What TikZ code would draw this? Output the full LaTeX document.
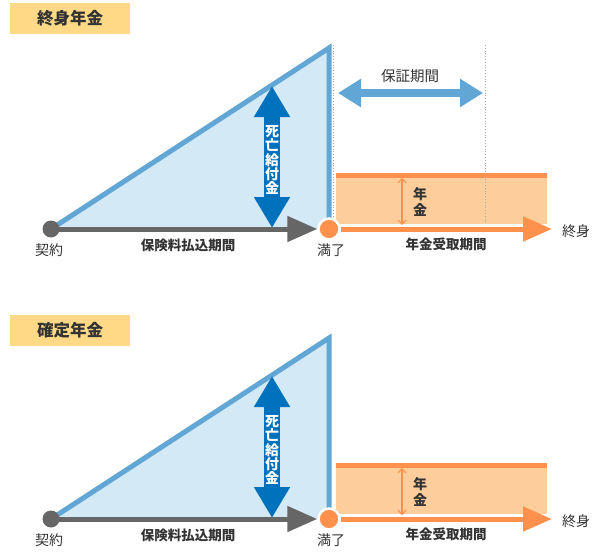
\documentclass[tikz,border=0pt]{standalone}
\usepackage{fontspec}
\setmainfont{Noto Sans CJK JP}
\usetikzlibrary{arrows.meta}
\definecolor{tbox}{HTML}{FFD985}
\definecolor{tfill}{HTML}{D3E9F6}
\definecolor{tline}{HTML}{62A6D6}
\definecolor{dblue}{HTML}{0071BC}
\definecolor{gline}{HTML}{666666}
\definecolor{orng}{HTML}{FF914D}
\definecolor{bandc}{HTML}{FDCE9B}
\definecolor{txt}{HTML}{333333}
\definecolor{guidec}{HTML}{AAAAAA}
\tikzset{
  titlebox/.style={fill=tbox, minimum width=120pt, minimum height=31pt, inner sep=0pt,
    font=\bfseries\fontsize{16.5}{17}\selectfont, text=txt},
  lbl/.style={font=\fontsize{14}{15}\selectfont, text=txt, inner sep=0pt},
  blbl/.style={font=\bfseries\fontsize{13.5}{15}\selectfont, text=txt, inner sep=0pt},
  startdot/.style={circle, fill=gline, minimum size=17pt, inner sep=0pt},
  enddot/.style={circle, fill=orng, draw=white, line width=2.5pt, minimum size=21pt, inner sep=0pt},
  tri/.style={fill=tfill, draw=tline, line width=5pt, line join=miter},
  garrow/.style={draw=gline, line width=5pt, -{Triangle[length=30pt,width=25pt]}},
  oarrow/.style={draw=orng, line width=5pt, -{Triangle[length=29pt,width=24pt]}},
  darrow/.style={draw=dblue, line width=16pt,
    {Triangle[length=31pt,width=34pt]}-{Triangle[length=31pt,width=34pt]}},
  parrow/.style={draw=tline, line width=8pt,
    {Triangle[length=23pt,width=27pt]}-{Triangle[length=23pt,width=27pt]}},
  thinarrow/.style={draw=orng, line width=1.2pt,
    {Straight Barb[length=4pt,width=8pt]}-{Straight Barb[length=4pt,width=8pt]}},
  guide/.style={draw=guidec, dotted, line width=0.8pt},
  bandtop/.style={draw=orng, line width=5pt},
  vtext/.style={font=\bfseries\fontsize{14}{14.3}\selectfont, text=white, align=center, inner sep=0pt},
  ntext/.style={font=\bfseries\fontsize{14}{16}\selectfont, text=txt, align=center, inner sep=0pt}
}
\newcommand\diagpart[2]{%
\begin{scope}[yshift=-#2pt]
  \filldraw[tri] (51,229) -- (329,48) -- (329,229);
  \fill[bandc] (336,175) rectangle (547,224);
  \draw[bandtop] (336,175) -- (547,175);
  \coordinate (na#1) at (402,178);
  \coordinate (nb#1) at (402,225);
  \draw[thinarrow] (na#1) -- (nb#1);
  \node[ntext] (nt#1) at (420,202) {年\\金};
  \coordinate (dt#1) at (272,86);
  \coordinate (db#1) at (272,228);
  \draw[darrow] (dt#1) -- (db#1);
  \node[vtext] (dl#1) at (272,160) {死\\亡\\給\\付\\金};
  \node[startdot] (k#1) at (51,229) {};
  \node[enddot] (m#1) at (329,229) {};
  \coordinate (e#1) at (552,229);
  \draw[garrow] (k#1.center) -- (m#1.west);
  \draw[oarrow] (m#1.east) -- (e#1);
  \node[lbl] (lk#1) at (49,250) {契約};
  \node[lbl] (lm#1) at (331,250) {満了};
  \node[lbl] (le#1) at (576,231) {終身};
  \node[blbl] (lp#1) at (188,245) {保険料払込期間};
  \node[blbl] (lr#1) at (446,244) {年金受取期間};
\end{scope}}
\begin{document}
\begin{tikzpicture}[x=1pt,y=-1pt]
\useasboundingbox (0,0) rectangle (599,554);
% guarantee guides (top part only)
\coordinate (ga) at (333,45);
\coordinate (gb) at (333,229);
\coordinate (gc) at (485,45);
\coordinate (gd) at (485,224);
\draw[guide] (ga) -- (gb);
\diagpart{1}{0}
\draw[guide] (gc) -- (gd);
\coordinate (pa) at (338,93);
\coordinate (pb) at (483,93);
\draw[parrow] (pa) -- (pb);
\node[lbl, font=\fontsize{14.5}{15}\selectfont] (pl) at (410,76) {保証期間};
\node[titlebox] (t1) at (70,18.5) {終身年金};
\diagpart{2}{290}
\node[titlebox] (t2) at (70,330) {確定年金};
\end{tikzpicture}
\end{document}
